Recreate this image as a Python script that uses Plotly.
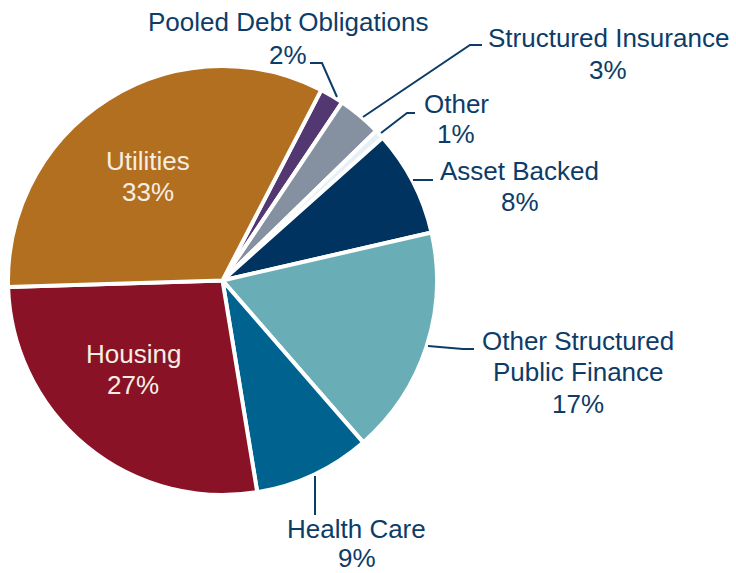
import plotly.graph_objects as go

W, H = 736, 573

categories = ["Pooled Debt Obligations", "Structured Insurance", "Other", "Asset Backed",
              "Other Structured Public Finance", "Health Care", "Housing", "Utilities"]
shares = [1.8, 3.3, 0.7, 8.0, 17.2, 8.8, 27.1, 33.1]
label_lines = [["Pooled Debt Obligations", "2%"], ["Structured Insurance", "3%"], ["Other", "1%"],
               ["Asset Backed", "8%"], ["Other Structured", "Public Finance", "17%"],
               ["Health Care", "9%"], ["Housing", "27%"], ["Utilities", "33%"]]
colors = ["#523770", "#8590A0", "#E6F0F5", "#00335F", "#69ADB6", "#00628F", "#8A1226", "#B26F20"]

TEXT = "#0D3C68"
FONT = "Liberation Sans, Arial, sans-serif"


def px(x, y):
    return x / W, 1 - y / H


# pie geometry (pixels)
cx, cy, r = 222.5, 280.5, 214.5
x0, y0 = px(cx - r, cy - r)
x1, y1 = px(cx + r, cy + r)

fig = go.Figure(go.Pie(
    labels=categories, values=shares, sort=False, direction="clockwise", rotation=27.4,
    marker=dict(colors=colors, line=dict(color="white", width=4)),
    textinfo="none", hoverinfo="label+percent", showlegend=False,
    domain=dict(x=[x0, x1], y=[y1, y0]),
))

# label positions: centre x and the y of each line (pixels)
label_x = [288, 608, 456, 519.5, 578, 356.5, 133, 148]
label_y = [[22, 55], [38, 70], [104, 134], [171, 202], [341, 372, 404],
           [529, 558], [354, 385], [161, 192]]
inside = {"Housing", "Utilities"}
annotations = []
for cat, lines, lx, lys in zip(categories, label_lines, label_x, label_y):
    for line, ly in zip(lines, lys):
        ax_, ay_ = px(lx, ly)
        annotations.append(dict(
            x=ax_, y=ay_, xref="paper", yref="paper", text=line, showarrow=False,
            xanchor="center", yanchor="middle", align="center",
            font=dict(family=FONT, size=26, color="#F6EEE2" if cat in inside else TEXT),
        ))

leaders = [
    [(337, 97), (322, 63), (310, 63)],
    [(363, 117), (470, 45), (482, 45)],
    [(381, 133), (407, 113), (415, 113)],
    [(413, 180), (433, 180)],
    [(428, 346), (463, 349), (474, 349)],
    [(315, 476), (315, 515)],
]
shapes = []
for pts in leaders:
    path = ""
    for i, (lx, ly) in enumerate(pts):
        qx, qy = px(lx, ly)
        path += ("M" if i == 0 else "L") + f"{qx:.5f},{qy:.5f} "
    shapes.append(dict(type="path", path=path.strip(), xref="paper", yref="paper",
                       line=dict(color=TEXT, width=2)))

fig.update_layout(
    width=W, height=H, margin=dict(l=0, r=0, t=0, b=0),
    paper_bgcolor="white", plot_bgcolor="white",
    annotations=annotations, shapes=shapes,
)

fig.write_html("out.html", config={"displayModeBar": False},
               post_script="document.body.style.margin='0';document.body.style.overflow='hidden';")
